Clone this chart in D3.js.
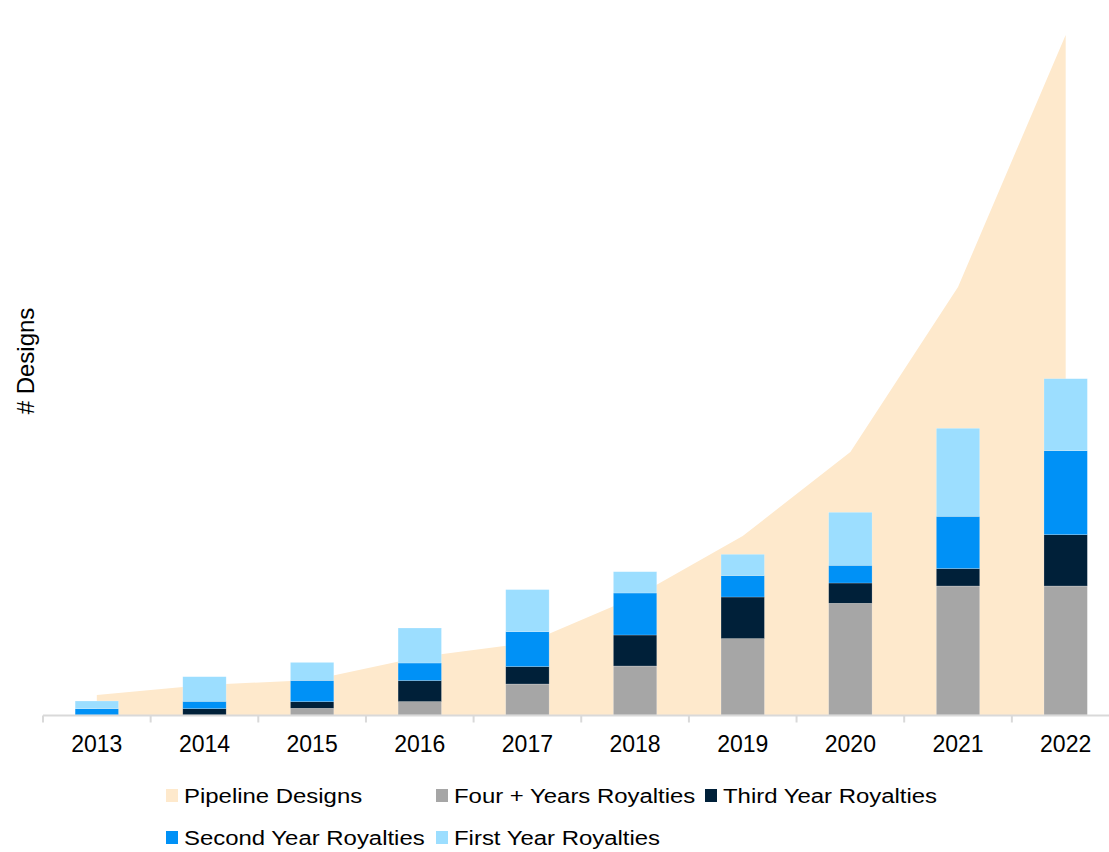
<!DOCTYPE html>
<html>
<head>
<meta charset="utf-8">
<script src="https://cdn.jsdelivr.net/npm/d3@7"></script>
<style>
  body { margin: 0; background: #fff; }
  text { font-family: "Liberation Sans", Arial, sans-serif; fill: #000; }
</style>
</head>
<body>
<div id="chart"></div>
<script>
// Data (arbitrary units)
const YEARS = ['2013','2014','2015','2016','2017','2018','2019','2020','2021','2022']
const PIPELINE = [20, 30, 35, 58, 72, 118, 179, 263, 428, 680]
const FOUR_PLUS = [0, 0, 6.7, 13.4, 31, 49, 76.4, 111.7, 129, 129]
const THIRD_YEAR = [0, 6.3, 6.6, 21, 17.4, 31, 41.6, 20.3, 17.4, 51.3]
const SECOND_YEAR = [6.3, 7.4, 21.3, 17.6, 35, 42, 21.4, 17.7, 52.3, 84]
const FIRST_YEAR = [7.7, 24.6, 18, 35, 42, 21.3, 21.3, 53, 88, 72]
const SERIES_NAMES = ['Pipeline Designs', 'Four + Years Royalties', 'Third Year Royalties', 'Second Year Royalties', 'First Year Royalties']

// Chart dimensions
const WIDTH = 1109
const HEIGHT = 852
const BASE_Y = 715

const COLORS = {
    'Pipeline Designs': '#fee9cc',
    'Four + Years Royalties': '#a6a6a6',
    'Third Year Royalties': '#002039',
    'Second Year Royalties': '#0091f6',
    'First Year Royalties': '#9cdeff'
}

var svg = d3.select('#chart').append('svg')
    .attr('width', WIDTH)
    .attr('height', HEIGHT)

var x = d3.scaleBand().domain(YEARS).range([43, 1119.5])
var y = d3.scaleLinear().domain([0, 700]).range([BASE_Y, 15])
var barW = x.bandwidth() * 0.403
var cx = (yr) => x(yr) + x.bandwidth() / 2

// Pipeline area (behind the bars)
var pipe = YEARS.map((yr, i) => ({year: yr, value: PIPELINE[i]}))
var area = d3.area()
    .x(d => cx(d.year))
    .y0(y(0))
    .y1(d => y(d.value))
svg.append('path')
    .datum(pipe)
    .attr('d', area)
    .attr('fill', COLORS['Pipeline Designs'])

// Stacked bars
var rows = YEARS.map((yr, i) => ({
    year: yr,
    'Four + Years Royalties': FOUR_PLUS[i],
    'Third Year Royalties': THIRD_YEAR[i],
    'Second Year Royalties': SECOND_YEAR[i],
    'First Year Royalties': FIRST_YEAR[i]
}))
var stack = d3.stack().keys(SERIES_NAMES.slice(1))(rows)

svg.append('g').selectAll('g').data(stack).enter().append('g')
    .attr('fill', d => COLORS[d.key])
    .selectAll('rect').data(d => d).enter().append('rect')
        .attr('x', d => cx(d.data.year) - barW / 2)
        .attr('width', barW)
        .attr('y', d => y(d[1]))
        .attr('height', d => y(d[0]) - y(d[1]))
        .attr('stroke', '#ffffff')
        .attr('stroke-opacity', 0.35)
        .attr('stroke-width', 0.6)

// X axis
var xAxis = svg.append('g')
    .attr('transform', 'translate(0,' + (BASE_Y + 0.5) + ')')
xAxis.append('line')
    .attr('x1', 43).attr('x2', 1119.5)
    .attr('stroke', '#d9d9d9').attr('stroke-width', 2)
xAxis.selectAll('.tick').data(YEARS).enter().append('line')
    .attr('x1', d => x(d)).attr('x2', d => x(d))
    .attr('y1', 0).attr('y2', 7)
    .attr('stroke', '#d9d9d9').attr('stroke-width', 2)
xAxis.selectAll('.label').data(YEARS).enter().append('text')
    .attr('x', d => cx(d))
    .attr('y', 36)
    .attr('text-anchor', 'middle')
    .style('font-size', '23px')
    .text(d => d)

// Y axis title
svg.append('text')
    .attr('transform', 'translate(34,361) rotate(-90)')
    .attr('text-anchor', 'middle')
    .style('font-size', '24px')
    .text('# Designs')

// Legend - text in the reference is a bit stretched sideways
const LEGEND_POS = [[166, 789], [436, 789], [705, 789], [166, 831], [436, 831]]
var legend = svg.append('g').selectAll('g').data(SERIES_NAMES).enter().append('g')
    .attr('transform', (d, i) => 'translate(' + LEGEND_POS[i][0] + ',' + LEGEND_POS[i][1] + ')')
legend.append('rect')
    .attr('width', 12).attr('height', 13)
    .attr('fill', d => COLORS[d])
legend.append('text')
    .attr('transform', 'translate(18,13.5) scale(1.14,1)')
    .style('font-size', '21px')
    .text(d => d)
</script>
</body>
</html>
